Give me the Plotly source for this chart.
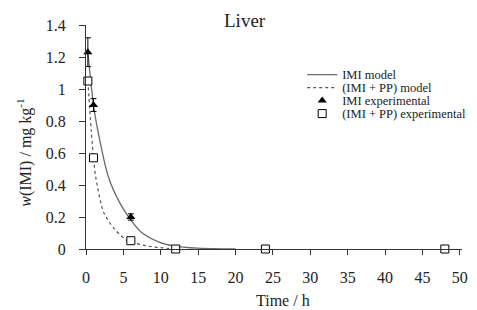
import plotly.graph_objects as go

# Experimental data
t_exp_imi = [0.25, 1, 6]
w_exp_imi = [1.23, 0.90, 0.20]
err_exp_imi = [0.09, 0.04, 0.02]

t_exp_pp = [0.25, 1, 6, 12, 24, 48]
w_exp_pp = [1.05, 0.57, 0.052, 0.0, 0.0, 0.0]

# Model curves
t_mod_imi = [0.25, 1.0, 1.5, 3.0, 4.5, 6.0, 7.4, 9.7, 11.7, 15, 20]
w_mod_imi = [1.23, 0.90, 0.76, 0.45, 0.29, 0.18, 0.105, 0.045, 0.02, 0.005, 0.0]

t_mod_pp = [0.25, 0.7, 1.0, 1.3, 2.4, 3.9, 5.4, 6.0, 8.0, 10.0, 12.0]
w_mod_pp = [1.05, 0.74, 0.57, 0.45, 0.225, 0.12, 0.056, 0.045, 0.02, 0.008, 0.0]

x_ticks = [0, 5, 10, 15, 20, 25, 30, 35, 40, 45, 50]
y_ticks = [0, 0.2, 0.4, 0.6, 0.8, 1, 1.2, 1.4]

FONT = "Liberation Serif, Times New Roman, serif"
LEG_FONT = dict(family=FONT, size=12.5, color="#222")

fig = go.Figure()
fig.add_trace(go.Scatter(x=t_mod_imi, y=w_mod_imi, mode="lines", name="IMI model",
                         line=dict(color="#6a6a6a", width=1.3, shape="spline", smoothing=0.8),
                         cliponaxis=False, legend="legend"))
fig.add_trace(go.Scatter(x=t_mod_pp, y=w_mod_pp, mode="lines", name="(IMI + PP) model",
                         line=dict(color="#555555", width=1.2, dash="dot", shape="spline", smoothing=0.8),
                         cliponaxis=False, legend="legend2"))
fig.add_trace(go.Scatter(x=t_exp_imi, y=w_exp_imi, mode="markers", name="IMI experimental",
                         marker=dict(symbol="triangle-up", size=8, color="black"),
                         error_y=dict(type="data", array=err_exp_imi, color="black", thickness=1, width=3),
                         cliponaxis=False, legend="legend3"))
fig.add_trace(go.Scatter(x=t_exp_pp, y=w_exp_pp, mode="markers", name="(IMI + PP) experimental",
                         marker=dict(symbol="square", size=8, color="white",
                                     line=dict(color="black", width=1)),
                         cliponaxis=False, legend="legend4"))

leg_x = 0.575
leg_y0 = 0.844
leg_dy = 13 / 224


def leg(i):
    return dict(x=leg_x, y=leg_y0 - i * leg_dy, xanchor="left", yanchor="top",
                font=LEG_FONT, bgcolor="rgba(0,0,0,0)")


# page body has an 8px margin: size the figure so the plot lands where the reference's does
fig.update_layout(
    width=469, height=302,
    margin=dict(l=78, r=15, t=17, b=61, autoexpand=False),
    paper_bgcolor="white", plot_bgcolor="white",
    font=dict(family=FONT, size=16, color="#222"),
    showlegend=True,
    legend=leg(0), legend2=leg(1), legend3=leg(2), legend4=leg(3),
    xaxis=dict(range=[0, 50.3], tickvals=x_ticks, showgrid=False, zeroline=False,
               showline=True, linecolor="#333", linewidth=1,
               ticks="outside", ticklen=5, tickcolor="#333", automargin=False,
               ticklabelstandoff=9, ticklabeloverflow="allow", tickfont=dict(size=16)),
    yaxis=dict(range=[0, 1.4], tickvals=y_ticks, showgrid=False, zeroline=False,
               showline=True, linecolor="#333", linewidth=1,
               ticks="outside", ticklen=6, tickcolor="#333", automargin=False,
               ticklabelstandoff=10, ticklabeloverflow="allow", tickfont=dict(size=16)),
    annotations=[
        dict(text="Liver", x=0.4226, y=1.022, xref="paper", yref="paper",
             xanchor="center", yanchor="middle",
             showarrow=False, font=dict(size=19)),
        dict(text="<i>w</i>(IMI) / mg kg<sup>-1</sup>", x=-0.162, y=0.43,
             xref="paper", yref="paper", xanchor="center", yanchor="middle",
             showarrow=False, textangle=-90, font=dict(size=16)),
        dict(text="Time / h", x=0.5237, y=-0.232, xref="paper", yref="paper",
             xanchor="center", yanchor="middle",
             showarrow=False, font=dict(size=16)),
    ],
)

fig.write_html("out.html")
